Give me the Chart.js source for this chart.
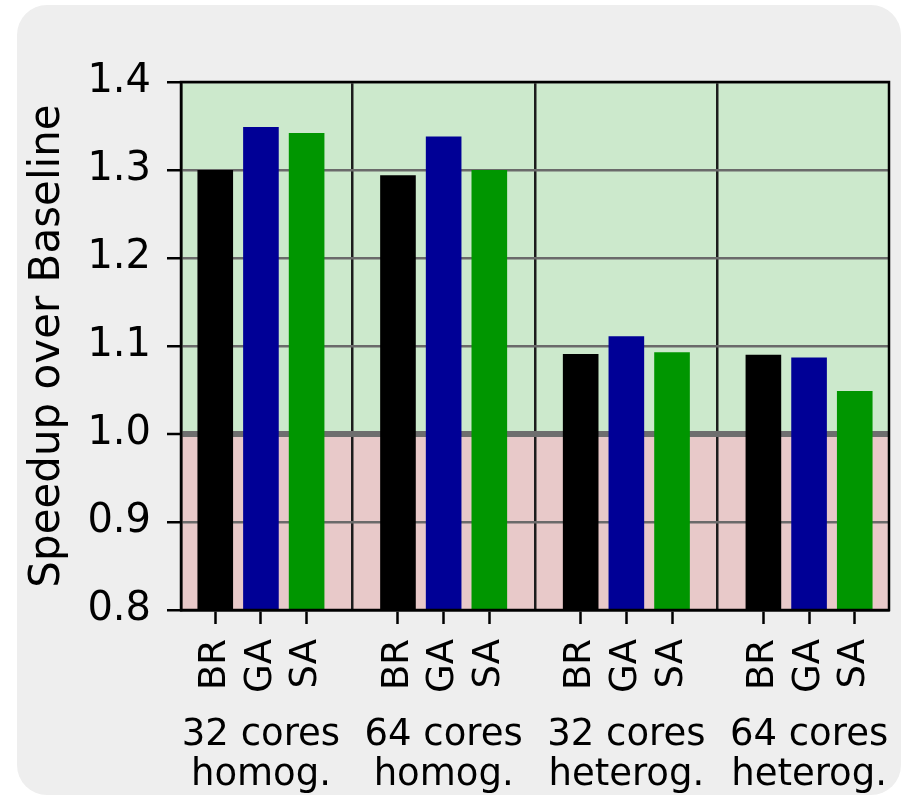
<!DOCTYPE html>
<html>
<head>
<meta charset="utf-8">
<script src="https://cdn.jsdelivr.net/npm/chart.js@4.4.0/dist/chart.umd.min.js"></script>
<style>
  html, body { margin: 0; padding: 0; background: #ffffff; }
  #card { position: absolute; left: 17px; top: 5px; width: 884px; height: 790px; border-radius: 30px; background: #eeeeee; }
  #wrap { position: absolute; left: 0; top: 0; width: 902px; height: 796px; }
</style>
</head>
<body>
<div id="card"></div>
<div id="wrap"><canvas id="c" width="902" height="796"></canvas></div>
<script>
// Machine configurations (two-line labels) and the three mapping methods
const groups = [
  ['32 cores', 'homog.'],
  ['64 cores', 'homog.'],
  ['32 cores', 'heterog.'],
  ['64 cores', 'heterog.']
];
const methods = ['BR', 'GA', 'SA'];

// Speedup over the baseline, one entry per configuration
const brValues = [1.300, 1.294, 1.091, 1.090];
const gaValues = [1.349, 1.338, 1.111, 1.087];
const saValues = [1.342, 1.300, 1.093, 1.049];

const yTicks = [0.8, 0.9, 1.0, 1.1, 1.2, 1.3, 1.4];

const FONT = 'DejaVu Sans';
const methodColors = ['#000000', '#000096', '#009600'];
const seriesValues = [brValues, gaValues, saValues];

// Each configuration occupies methods.length slots plus one gap slot
const slot = methods.length + 1;
const barPos = (g, m) => g * slot + m;
const xMin = -0.75;
const xMax = (groups.length - 1) * slot + methods.length - 1 + 0.75;

const barTicks = [];
groups.forEach((_, g) => methods.forEach((_, m) => barTicks.push(barPos(g, m))));
const groupTicks = [];
groups.forEach((_, g) => {
  groupTicks.push(g * slot + (methods.length - 1) / 2);
  if (g < groups.length - 1) groupTicks.push(g * slot + methods.length);
});

const datasets = methods.map((name, m) => ({
  label: name,
  data: groups.map((_, g) => ({ x: barPos(g, m), y: seriesValues[m][g] })),
  backgroundColor: methodColors[m],
  borderWidth: 0,
  grouped: false,
  barPercentage: 0.78,
  categoryPercentage: 1.0
}));

// Green region above 1.0, red region below, and the plot frame
const plotDecor = {
  id: 'plotDecor',
  beforeDraw(chart) {
    const { ctx, chartArea: a, scales: { y } } = chart;
    const yOne = y.getPixelForValue(1.0);
    ctx.save();
    ctx.fillStyle = '#cce9cc';
    ctx.fillRect(a.left, a.top, a.right - a.left, yOne - a.top);
    ctx.fillStyle = '#e8c9c9';
    ctx.fillRect(a.left, yOne, a.right - a.left, a.bottom - yOne);
    ctx.restore();
  },
  afterDatasetsDraw(chart) {
    const { ctx, chartArea: a } = chart;
    ctx.save();
    ctx.strokeStyle = '#000000';
    ctx.lineWidth = 2.5;
    ctx.strokeRect(a.left, a.top, a.right - a.left, a.bottom - a.top);
    ctx.restore();
  }
};

// Horizontal axes keep a fixed height and add no side padding of their own
const fixHeight = (h) => (s) => { s.height = h; s.paddingLeft = 0; s.paddingRight = 0; };

new Chart(document.getElementById('c'), {
  type: 'bar',
  data: { datasets },
  plugins: [plotDecor],
  options: {
    responsive: false,
    animation: false,
    layout: { padding: { left: 0, top: 82, right: 13, bottom: 0 } },
    plugins: { legend: { display: false }, tooltip: { enabled: false } },
    scales: {
      x: {
        type: 'linear',
        position: 'bottom',
        weight: 0,
        min: xMin,
        max: xMax,
        bounds: 'data',
        offset: false,
        afterBuildTicks: (s) => { s.ticks = barTicks.map(v => ({ value: v })); },
        afterFit: fixHeight(90),
        grid: {
          offset: false,
          drawOnChartArea: false,
          drawTicks: true,
          tickLength: 14,
          tickColor: '#000000',
          tickWidth: 2.5
        },
        border: { display: true, color: '#000000', width: 2.5 },
        ticks: {
          autoSkip: false,
          minRotation: 90,
          maxRotation: 90,
          padding: 15,
          color: '#000000',
          font: { family: FONT, size: 37 },
          callback: (v, i) => methods[i % methods.length]
        }
      },
      xGroup: {
        type: 'linear',
        position: 'bottom',
        weight: 1,
        min: xMin,
        max: xMax,
        bounds: 'data',
        offset: false,
        afterBuildTicks: (s) => { s.ticks = groupTicks.map(v => ({ value: v })); },
        afterFit: fixHeight(96),
        grid: {
          offset: false,
          drawOnChartArea: true,
          drawTicks: false,
          color: (ctx) => (ctx.index % 2 === 1 ? '#1c1c1c' : 'rgba(0,0,0,0)'),
          lineWidth: 2.5
        },
        border: { display: false },
        ticks: {
          autoSkip: false,
          minRotation: 0,
          maxRotation: 0,
          padding: 15,
          color: '#000000',
          font: { family: FONT, size: 37, lineHeight: '40px' },
          callback: (v, i) => (i % 2 === 0 ? groups[i / 2] : '')
        }
      },
      y: {
        type: 'linear',
        position: 'left',
        min: yTicks[0],
        max: yTicks[yTicks.length - 1],
        afterBuildTicks: (s) => { s.ticks = yTicks.map(v => ({ value: v })); },
        afterFit: (s) => { s.width = 181; },
        grid: {
          color: (ctx) => (ctx.tick && ctx.tick.value === 1.0 ? '#6e6e6e' : '#6a6a6a'),
          lineWidth: (ctx) => (ctx.tick && ctx.tick.value === 1.0 ? 6 : 2.5),
          drawTicks: true,
          tickLength: 14,
          tickColor: '#000000',
          tickWidth: 2.5
        },
        border: { display: true, color: '#000000', width: 2.5 },
        ticks: {
          padding: 16,
          color: '#000000',
          font: { family: FONT, size: 40 },
          callback: (v) => Number(v).toFixed(1)
        },
        title: {
          display: true,
          text: 'Speedup over Baseline',
          color: '#000000',
          font: { family: FONT, size: 42 },
          padding: { top: 23, bottom: 0 }
        }
      }
    }
  }
});
</script>
</body>
</html>
